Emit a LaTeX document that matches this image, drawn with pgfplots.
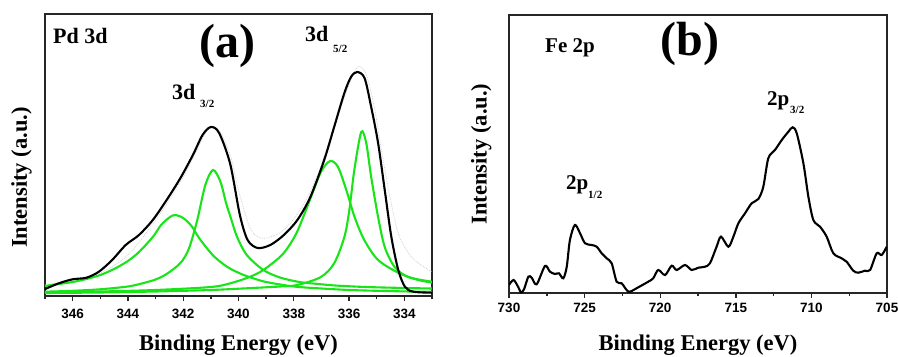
\documentclass[border=0pt]{standalone}
\usepackage{fontspec}
\setmainfont{Liberation Serif}
\newfontfamily\tickfont{Liberation Sans}
\usepackage{pgfplots}
\pgfplotsset{compat=1.18}
\definecolor{fitgreen}{RGB}{25,228,25}
\begin{document}
\begin{tikzpicture}
\path[use as bounding box] (0,0) rectangle (899pt,356pt);
\pgfplotsset{
  xpsstyle/.style={
    scale only axis,
    anchor=south west,
    axis line style={line width=1.7pt, black!85},
    ytick=\empty,
    xtick pos=left,
    tick align=outside,
    major tick length=5pt,
    minor tick length=3pt,
    every tick/.style={line width=1.4pt, black!85},
    /pgf/number format/assume math mode=true,
    xticklabel style={font=\tickfont\bfseries\fontsize{13.5}{13.5}\selectfont, inner sep=0pt, anchor=north},
    xlabel={Binding Energy (eV)},
    ylabel={Intensity (a.u.)},
    label style={font=\bfseries\fontsize{22.5}{22.5}\selectfont, inner sep=0pt},
  }
}
% ---------------- panel (a) ----------------
\begin{axis}[xpsstyle,
  at={(45pt,60pt)}, width=387pt, height=282pt,
  x dir=reverse, xmin=333, xmax=347, ymin=-1, ymax=281,
  xtick={334,336,...,346}, minor xtick={333,335,...,347},
  xticklabel style={yshift=-8pt},
  xlabel style={at={(axis description cs:0.5,0)}, anchor=north, yshift=-39pt},
  ylabel style={at={(axis description cs:-0.034,0.42)}, anchor=south},
]
% faint envelope
\addplot[gray!35, densely dotted, line width=0.8pt, smooth] coordinates {
(347,10) (346,15) (345,22) (344,40) (343,75) (342,118) (341.2,162) (341.0,168)
(340.7,165) (340.3,140) (340.0,105) (339.6,68) (339.3,58) (339.0,57) (338.5,62)
(338,76) (337.5,98) (337,130) (336.5,172) (336.0,210) (335.7,228) (335.4,222)
(335.1,190) (334.8,140) (334.5,95) (334.2,60) (333.8,40) (333.4,30) (333.0,23)};
% G1
\addplot[fitgreen, line width=2.1pt, smooth] coordinates {
(347.0,9) (346.5,11) (346.0,13) (345.5,16) (345.0,20) (344.5,26) (344.0,34)
(343.6,43) (343.1,58) (342.8,70) (342.5,77.5) (342.3,80) (342.0,77) (341.7,69)
(341.4,56) (340.9,39) (340.4,28) (339.9,21) (339.5,17) (339.0,13) (338.0,8.5)
(337.0,6.5) (336.0,5) (335.0,4.2) (334.0,3.6) (333.0,3.2)};
% G2
\addplot[fitgreen, line width=2.1pt, smooth] coordinates {
(347,3.3) (346,4.2) (345,5.7) (344,8.5) (343.5,11.5) (343,15.5) (342.6,21) (342.1,32)
(341.8,46) (341.5,74) (341.2,110) (340.92,125) (340.65,113) (340.45,92) (340.3,79)
(340.05,58) (339.7,40) (339.1,25) (338.5,17.5) (337.8,13) (337.3,11.5) (336.5,9.5)
(335.4,8) (334,7) (333,6.5)};
% G3
\addplot[fitgreen, line width=2.1pt, smooth] coordinates {
(347,2.5) (345,3.5) (343,5) (341,8) (340.3,11.7) (339.6,18) (339.1,25) (338.5,38)
(338.2,48) (337.9,62) (337.6,82) (337.35,100) (337.0,124) (336.68,134) (336.4,128)
(336.1,105) (335.8,78) (335.45,55) (334.95,35) (334.2,22) (333.5,15) (333,12.5)};
% G4
\addplot[fitgreen, line width=2.1pt, smooth] coordinates {
(347,2) (345,2.5) (343,3.5) (341,5) (339.5,7) (338.5,8.5) (337.87,10) (337.02,18)
(336.54,31.7) (336.17,58) (335.99,85) (335.81,125) (335.56,163) (335.38,152)
(335.2,118) (334.95,78) (334.71,48) (334.35,28) (333.86,18) (333.0,13.3)};
% measured envelope
\addplot[black, line width=2.1pt, smooth] coordinates {
(347.02,5.7) (346.5,11.7) (346.0,15.7) (345.5,17.3) (345.05,23.3) (344.57,35)
(344.08,50) (343.6,60) (343.1,75) (342.6,95) (342.1,117) (341.65,140) (341.3,160)
(341.0,168) (340.7,162) (340.3,131) (339.95,80) (339.67,55) (339.31,47) (338.85,50)
(338.36,60) (337.87,75) (337.4,98) (336.9,135) (336.54,168) (336.17,202)
(335.93,218) (335.71,223) (335.44,217) (335.2,188) (334.95,152) (334.71,105)
(334.47,58) (334.22,25) (333.98,8.3) (333.68,3.3) (333.0,2.3)};
\end{axis}
% ---------------- panel (b) ----------------
\begin{axis}[xpsstyle,
  at={(509pt,63pt)}, width=378pt, height=278pt,
  x dir=reverse, xmin=705, xmax=730, ymin=0, ymax=278,
  xtick={705,710,...,730}, minor x tick num=1,
  xticklabel style={yshift=-5pt},
  xlabel style={at={(axis description cs:0.5,0)}, anchor=north, yshift=-42pt},
  ylabel style={at={(axis description cs:-0.046,0.5)}, anchor=south},
]
\addplot[black, line width=2.1pt, smooth] coordinates {
(730.0,8) (729.7,13) (729.4,6.3) (729.2,0.5) (729.0,4) (728.72,16.3) (728.5,15.3)
(728.17,8.7) (727.62,27) (727.29,21.3) (726.96,19) (726.7,19.7) (726.41,14.7)
(726.18,26.3) (725.97,53) (725.64,68) (725.30,59.7) (724.97,49.7) (724.53,48)
(724.2,46.3) (723.87,39.7) (723.54,34.7) (723.21,29.7) (722.88,11.3) (722.55,9.7)
(722.22,3) (722.0,1.3) (721.45,5.7) (720.79,11.3) (720.46,14.7) (720.13,23)
(719.68,18) (719.24,27.3) (718.91,23) (718.36,28) (717.92,23) (717.48,25.3)
(717.04,26.3) (716.71,29.7) (716.27,46.3) (715.98,56.3) (715.49,46.3) (715.16,56.3)
(714.83,69.7) (714.39,79.7) (713.95,89.7) (713.51,94) (713.18,106.3) (712.85,134.7)
(712.41,143) (711.96,153) (711.52,161.3) (711.24,165.7) (710.97,159.7) (710.53,129.7)
(710.2,96.3) (709.87,73) (709.43,66.3) (708.99,56.3) (708.55,39.7) (708.0,34.7)
(707.67,31.3) (707.23,22.3) (706.9,20.3) (706.46,22.3) (706.12,23) (705.68,39.7)
(705.35,38) (705.02,46.3)};
\end{axis}
% ---------------- annotations ----------------
\begin{scope}[every node/.style={inner sep=0pt, font=\bfseries}]
\node[anchor=base west, font=\bfseries\fontsize{22}{22}\selectfont] at (53pt,312pt) {Pd 3d};
\node[anchor=center, font=\bfseries\fontsize{48}{48}\selectfont] at (227.5pt,310pt) {(a)};
\node[anchor=base west, font=\bfseries\fontsize{22}{22}\selectfont] at (305pt,314pt) {3d};
\node[anchor=base west, font=\bfseries\fontsize{11}{11}\selectfont] at (333pt,303pt) {5/2};
\node[anchor=base west, font=\bfseries\fontsize{22}{22}\selectfont] at (172pt,256pt) {3d};
\node[anchor=base west, font=\bfseries\fontsize{11}{11}\selectfont] at (200pt,248pt) {3/2};
\node[anchor=base west, font=\bfseries\fontsize{21}{21}\selectfont] at (545pt,303pt) {Fe 2p};
\node[anchor=center, font=\bfseries\fontsize{48}{48}\selectfont] at (690pt,312pt) {(b)};
\node[anchor=base west, font=\bfseries\fontsize{21}{21}\selectfont] at (767pt,250.5pt) {2p};
\node[anchor=base west, font=\bfseries\fontsize{11}{11}\selectfont] at (790pt,242.5pt) {3/2};
\node[anchor=base west, font=\bfseries\fontsize{21}{21}\selectfont] at (566pt,166pt) {2p};
\node[anchor=base west, font=\bfseries\fontsize{11}{11}\selectfont] at (588pt,157pt) {1/2};
\end{scope}
\end{tikzpicture}
\end{document}
